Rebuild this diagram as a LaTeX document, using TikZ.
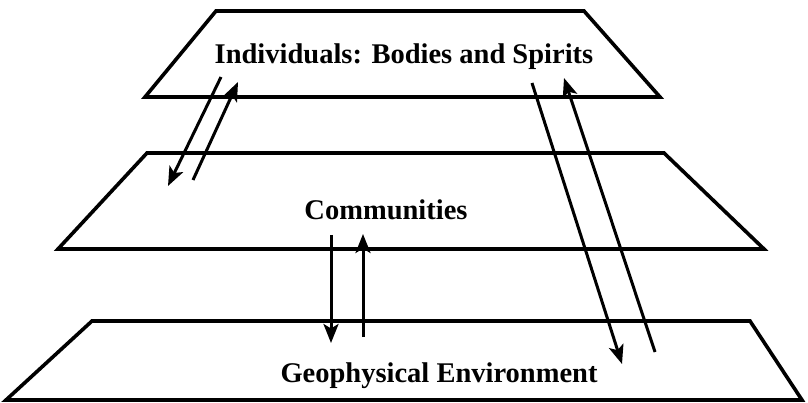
\documentclass[tikz,border=0pt]{standalone}
\usepackage{fontspec}
\setmainfont{Liberation Serif}
\usetikzlibrary{arrows.meta}
\begin{document}
\begin{tikzpicture}[x=1pt,y=-1pt,
  plane/.style={line width=3.6pt,line join=miter},
  flow/.style={line width=3pt,-{Stealth[length=19pt,width=15pt,inset=4.5pt]}},
  levellabel/.style={anchor=base,font=\bfseries\fontsize{28.5}{30}\selectfont,inner sep=0pt}]
\useasboundingbox (0,0) rectangle (808,403);
% three stacked planes
\draw[plane] (216,11) -- (584,11) -- (660,97) -- (145,97) -- cycle;
\draw[plane] (147,153) -- (664,153) -- (764,249) -- (58,249) -- cycle;
\draw[plane] (92,321) -- (750,321) -- (802,400) -- (6,400) -- cycle;
% level labels
\node[levellabel] (ind) at (404,64) {Individuals: Bodies and Spirits};
\node[levellabel] (com) at (386,220) {Communities};
\node[levellabel] (geo) at (439,382) {Geophysical Environment};
% arrow end points
\coordinate (a1) at (221,77);  \coordinate (a2) at (168,186);
\coordinate (b1) at (193,180); \coordinate (b2) at (238,82);
\coordinate (c1) at (331,235); \coordinate (c2) at (331,343);
\coordinate (d1) at (363,337); \coordinate (d2) at (363,234);
\coordinate (e1) at (532,83);  \coordinate (e2) at (622,364);
\coordinate (f1) at (655,352); \coordinate (f2) at (564,78);
% exchanges between the levels
\draw[flow] (a1) -- (a2);
\draw[flow] (b1) -- (b2);
\draw[flow] (c1) -- (c2);
\draw[flow] (d1) -- (d2);
\draw[flow] (e1) -- (e2);
\draw[flow] (f1) -- (f2);
\end{tikzpicture}
\end{document}
